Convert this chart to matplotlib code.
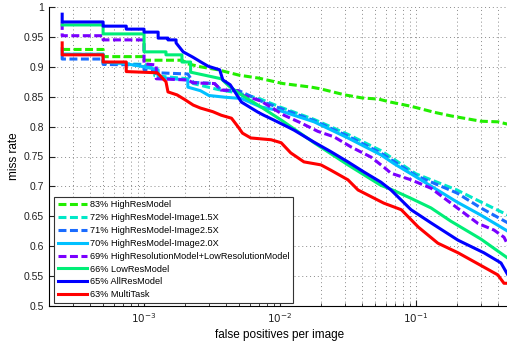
import matplotlib
matplotlib.use('Agg')
import matplotlib.pyplot as plt
from matplotlib.ticker import LogLocator, FixedLocator

plt.rcParams['font.family'] = ['Liberation Sans', 'DejaVu Sans']

# fppi / miss rate
hr_x = [2.5e-4, 5.0e-4, 5.0e-4, 1.0e-3, 1.0e-3, 1.9e-3, 2.1e-3, 2.6e-3, 3.5e-3, 5.0e-3, 7.0e-3, 1.05e-2,
        1.7e-2, 2.0e-2, 3.0e-2, 4.0e-2, 5.3e-2, 6.5e-2, 9.2e-2, 0.136, 0.18, 0.30, 0.40, 0.474]
hr_y = [0.929, 0.929, 0.917, 0.917, 0.911, 0.911, 0.905, 0.9, 0.895, 0.886, 0.881, 0.872,
        0.866, 0.863, 0.853, 0.848, 0.846, 0.841, 0.834, 0.824, 0.818, 0.809, 0.808, 0.804]

im15_x = [2.5e-4, 5.0e-4, 5.0e-4, 1.0e-3, 1.2e-3, 1.2e-3, 2.1e-3, 2.3e-3, 3.5e-3, 5.0e-3, 7.2e-3, 1.02e-2,
          1.78e-2, 3.16e-2, 5.5e-2, 0.1, 0.2, 0.3, 0.474]
im15_y = [0.921, 0.921, 0.906, 0.904, 0.9, 0.885, 0.88, 0.872, 0.862, 0.856, 0.846, 0.832,
          0.812, 0.787, 0.76, 0.721, 0.694, 0.674, 0.652]

im25_x = [2.5e-4, 2.5e-4, 5.0e-4, 5.0e-4, 1.0e-3, 1.0e-3, 1.23e-3, 1.23e-3, 2.1e-3, 2.3e-3, 3.3e-3, 3.7e-3,
          5.0e-3, 7.2e-3, 1.02e-2, 1.78e-2, 3.16e-2, 5.5e-2, 0.1, 0.2, 0.3, 0.474]
im25_y = [0.92, 0.913, 0.913, 0.904, 0.903, 0.895, 0.891, 0.89, 0.888, 0.874, 0.872, 0.861,
          0.86, 0.843, 0.83, 0.81, 0.784, 0.756, 0.718, 0.689, 0.664, 0.639]

im20_x = [2.5e-4, 2.5e-4, 5.0e-4, 5.0e-4, 7.4e-4, 1.0e-3, 1.27e-3, 1.27e-3, 2.1e-3, 2.1e-3, 2.6e-3, 3.0e-3,
          4.0e-3, 5.2e-3, 7.2e-3, 1.02e-2, 1.78e-2, 3.16e-2, 5.5e-2, 6.9e-2, 0.1, 0.2, 0.3, 0.474]
im20_y = [0.93, 0.921, 0.921, 0.908, 0.905, 0.9, 0.895, 0.882, 0.878, 0.866, 0.86, 0.852,
          0.849, 0.847, 0.833, 0.826, 0.808, 0.781, 0.753, 0.738, 0.716, 0.674, 0.652, 0.625]

hl_x = [2.5e-4, 2.5e-4, 5.0e-4, 5.0e-4, 1.0e-3, 1.0e-3, 1.23e-3, 1.23e-3, 2.1e-3, 2.3e-3, 3.3e-3, 3.7e-3,
        4.9e-3, 5.2e-3, 7.2e-3, 1.07e-2, 1.43e-2, 1.9e-2, 2.49e-2, 3.33e-2, 4.67e-2, 5.82e-2, 6.55e-2,
        9.2e-2, 0.129, 0.204, 0.286, 0.375, 0.444, 0.474]
hl_y = [0.975, 0.952, 0.952, 0.945, 0.945, 0.905, 0.903, 0.88, 0.878, 0.873, 0.872, 0.861,
        0.86, 0.853, 0.843, 0.819, 0.806, 0.792, 0.783, 0.766, 0.749, 0.732, 0.722,
        0.711, 0.697, 0.663, 0.638, 0.627, 0.615, 0.602]

low_x = [2.5e-4, 5.0e-4, 5.0e-4, 1.0e-3, 1.0e-3, 1.45e-3, 1.45e-3, 1.9e-3, 1.9e-3, 2.2e-3, 2.2e-3, 3.7e-3,
         4.2e-3, 5.2e-3, 7.0e-3, 1.02e-2, 1.78e-2, 3.16e-2, 5.5e-2, 6.9e-2, 9.2e-2, 0.129, 0.18, 0.3, 0.474]
low_y = [0.97, 0.97, 0.955, 0.955, 0.925, 0.925, 0.92, 0.92, 0.908, 0.908, 0.891, 0.88,
         0.868, 0.853, 0.835, 0.811, 0.773, 0.736, 0.702, 0.693, 0.68, 0.664, 0.642, 0.612, 0.58]

all_x = [2.5e-4, 2.5e-4, 5.0e-4, 5.0e-4, 7.4e-4, 7.4e-4, 1.0e-3, 1.0e-3, 1.27e-3, 1.27e-3, 1.5e-3, 1.5e-3,
         1.72e-3, 1.72e-3, 1.94e-3, 2.29e-3, 2.62e-3, 2.96e-3, 3.6e-3, 3.8e-3, 4.3e-3, 4.75e-3, 5.2e-3,
         6.9e-3, 7.6e-3, 9.0e-3, 1.15e-2, 1.27e-2, 1.78e-2, 2.37e-2, 3.16e-2, 4.15e-2, 5.53e-2, 6.55e-2,
         9.2e-2, 0.129, 0.204, 0.316, 0.422, 0.474]
all_y = [0.988, 0.975, 0.975, 0.968, 0.968, 0.963, 0.963, 0.958, 0.958, 0.948, 0.948, 0.945,
         0.945, 0.94, 0.925, 0.916, 0.908, 0.901, 0.895, 0.878, 0.87, 0.855, 0.841,
         0.824, 0.819, 0.811, 0.799, 0.794, 0.774, 0.758, 0.741, 0.724, 0.707, 0.694,
         0.661, 0.639, 0.61, 0.589, 0.572, 0.552]

mt_x = [2.5e-4, 2.5e-4, 5.0e-4, 5.0e-4, 7.4e-4, 7.4e-4, 1.25e-3, 1.45e-3, 1.5e-3, 1.75e-3, 2.0e-3, 2.3e-3,
        2.6e-3, 3.2e-3, 3.7e-3, 4.4e-3, 4.9e-3, 5.3e-3, 6.1e-3, 8.6e-3, 1.02e-2, 1.2e-2, 1.5e-2, 2.0e-2,
        2.37e-2, 3.16e-2, 3.75e-2, 5.8e-2, 7.8e-2, 0.104, 0.145, 0.204, 0.316, 0.40, 0.444, 0.474]
mt_y = [0.94, 0.92, 0.92, 0.908, 0.908, 0.892, 0.89, 0.875, 0.858, 0.853, 0.845, 0.836,
        0.831, 0.825, 0.819, 0.814, 0.8, 0.789, 0.781, 0.778, 0.773, 0.756, 0.741, 0.736,
        0.727, 0.711, 0.694, 0.672, 0.661, 0.632, 0.605, 0.589, 0.565, 0.552, 0.538, 0.538]

labels = ['83% HighResModel', '72% HighResModel-Image1.5X', '71% HighResModel-Image2.5X',
          '70% HighResModel-Image2.0X', '69% HighResolutionModel+LowResolutionModel',
          '66% LowResModel', '65% AllResModel', '63% MultiTask']
colors = ['#22ee00', '#00e8c8', '#1a6cff', '#00c0ff', '#7a00ff', '#00ee77', '#0000ff', '#ff0000']
dashed = [True, True, True, False, True, False, False, False]
series = [(hr_x, hr_y), (im15_x, im15_y), (im25_x, im25_y), (im20_x, im20_y),
          (hl_x, hl_y), (low_x, low_y), (all_x, all_y), (mt_x, mt_y)]

fig = plt.figure(figsize=(5.07, 3.41), dpi=100)
ax = fig.add_axes([49/507, 35/341, 462/507, 299/341])

for (xs, ys), lab, c, d in zip(series, labels, colors, dashed):
    ls = (0, (2.6, 1.15)) if d else '-'
    ax.plot(xs, ys, color=c, lw=2.2, ls=ls, label=lab)

ax.set_xscale('log')
ax.set_xlim(2e-4, 0.5)
ax.set_ylim(0.5, 1.0)
ax.yaxis.set_major_locator(FixedLocator([0.5, 0.55, 0.6, 0.65, 0.7, 0.75, 0.8, 0.85, 0.9, 0.95, 1.0]))
ax.set_yticklabels(['0.5', '0.55', '0.6', '0.65', '0.7', '0.75', '0.8', '0.85', '0.9', '0.95', '1'])
ax.xaxis.set_major_locator(FixedLocator([1e-3, 1e-2, 1e-1]))
ax.set_xticklabels([r'$10^{-3}$', r'$10^{-2}$', r'$10^{-1}$'])
ax.xaxis.set_minor_locator(LogLocator(base=10, subs=range(2, 10), numticks=20))

ax.grid(True, which='major', ls=(0, (1, 3)), color='#8a8a8a', lw=0.7)
ax.grid(True, which='minor', axis='x', ls=(0, (1, 3)), color='#8a8a8a', lw=0.7)
ax.tick_params(which='both', direction='in', labelsize=7.5, colors='#222222', top=False, right=False)
ax.tick_params(which='major', length=4)
ax.tick_params(which='minor', length=2.5)
ax.spines['top'].set_visible(False)
ax.spines['right'].set_visible(False)

ax.set_xlabel('false positives per image', fontsize=8.5, labelpad=3)
ax.set_ylabel('miss rate', fontsize=8.5, labelpad=3)

leg = ax.legend(loc='lower left', bbox_to_anchor=(5/462, 3/299), borderaxespad=0, fontsize=6.6,
                handlelength=3.2, handletextpad=0.3, labelspacing=0.42, borderpad=0.4,
                fancybox=False, framealpha=1, edgecolor='#333333')
leg.get_frame().set_linewidth(0.8)

fig.savefig('out.png', dpi=100)
